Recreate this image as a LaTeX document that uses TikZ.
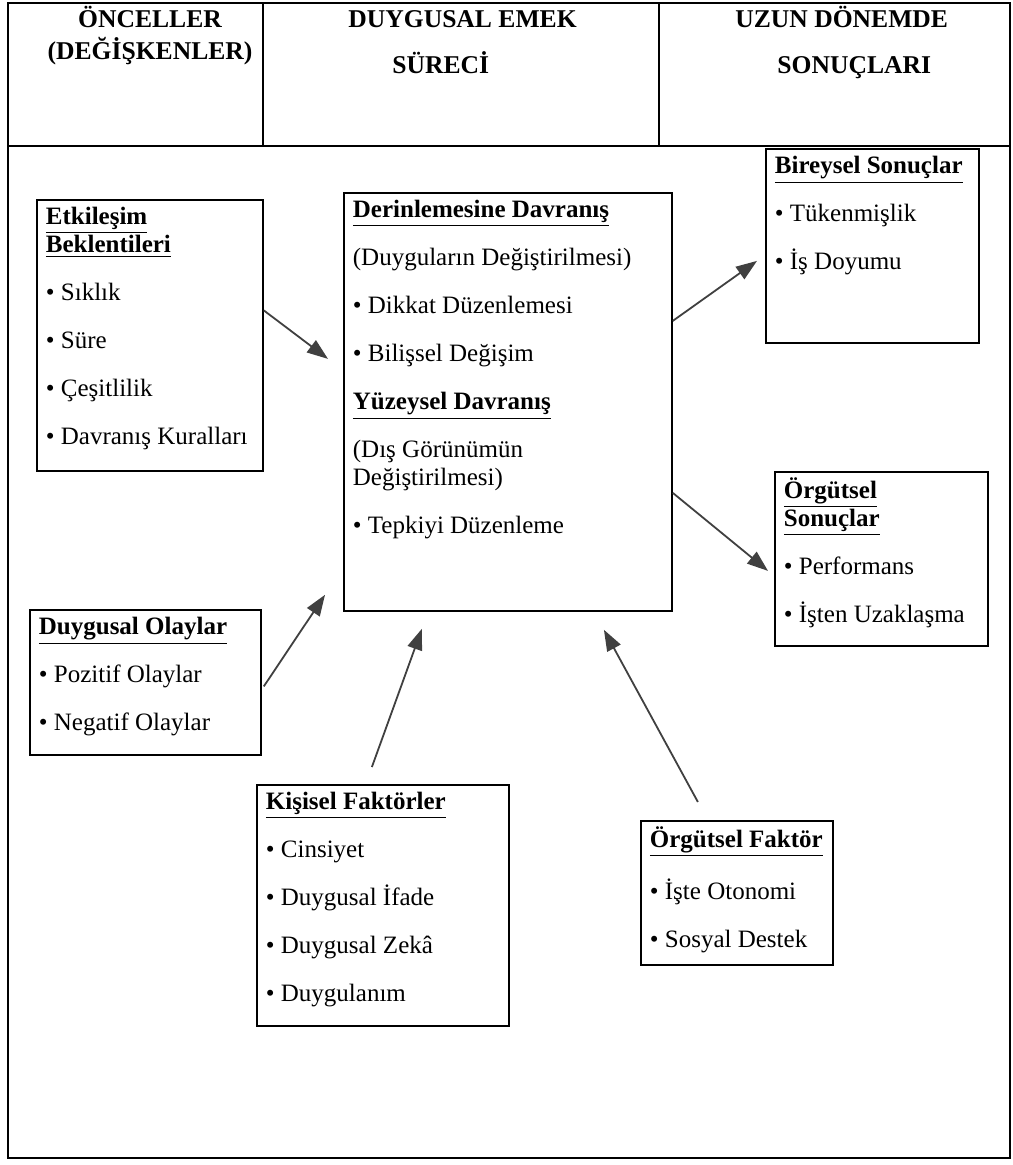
\documentclass[tikz,border=0pt]{standalone}
\usepackage{fontspec}
\setmainfont{Liberation Serif}
\usetikzlibrary{arrows.meta}

\begin{document}
\begin{tikzpicture}[
    x=0.5pt, y=-0.5pt,
    % Node styles
    box/.style={draw, line width=0.9pt, anchor=north west, inner xsep=4.5pt, inner ysep=2.7pt, font=\fontsize{12.5pt}{14pt}\selectfont},
    header/.style={inner sep=0pt, font=\fontsize{12.8pt}{15pt}\selectfont\bfseries},
    frame/.style={line width=0.9pt},
    edge/.style={-{Triangle[length=10.5pt, width=7.5pt]}, line width=0.9pt, draw=black!75},
]
\useasboundingbox (0,0) rectangle (1012,1165);

% ============================================================
% Frame and header row
% ============================================================
\draw[frame] (8,3) rectangle (1010,146);
\draw[frame] (8,146) rectangle (1010,1158);
\draw[frame] (263,3) -- (263,146);
\draw[frame] (659,3) -- (659,146);

\node[header, anchor=base] (once1) at (150,28) {ÖNCELLER};
\node[header, anchor=base] (once2) at (150,60) {(DEĞİŞKENLER)};
\node[header, anchor=base west] (surec1) at (348,28) {DUYGUSAL EMEK};
\node[header, anchor=base west] (surec2) at (392,74) {SÜRECİ};
\node[header, anchor=base west] (sonuc1) at (735,28) {UZUN DÖNEMDE};
\node[header, anchor=base west] (sonuc2) at (777,74) {SONUÇLARI};

% ============================================================
% Antecedents
% ============================================================
\node[box] (etk) at (36,199) {\parbox[t][130.1pt][t]{104pt}{\strut
  \underline{\textbf{Etkileşim}}\\
  \underline{\textbf{Beklentileri}}\\[10pt]
  • Sıklık\\[10pt]
  • Süre\\[10pt]
  • Çeşitlilik\\[10pt]
  • Davranış Kuralları}};

\node[box] (olay) at (29,609) {\parbox[t][67.1pt][t]{106.5pt}{\strut
  \underline{\textbf{Duygusal Olaylar}}\\[10pt]
  • Pozitif Olaylar\\[10pt]
  • Negatif Olaylar}};

\node[box] (kisi) at (256,784) {\parbox[t][115.1pt][t]{117pt}{\strut
  \underline{\textbf{Kişisel Faktörler}}\\[10pt]
  • Cinsiyet\\[10pt]
  • Duygusal İfade\\[10pt]
  • Duygusal Zekâ\\[10pt]
  • Duygulanım}};

\node[box] (orgf) at (640,820) {\parbox[t][66.6pt][t]{87pt}{\strut
  \underline{\textbf{Örgütsel Faktör}}\\[10pt]
  • İşte Otonomi\\[10pt]
  • Sosyal Destek}};

% ============================================================
% Emotional labour process
% ============================================================
\node[box] (surec) at (343,192) {\parbox[t][203.6pt][t]{155pt}{\strut
  \underline{\textbf{Derinlemesine Davranış}}\\[10pt]
  (Duyguların Değiştirilmesi)\\[10pt]
  • Dikkat Düzenlemesi\\[10pt]
  • Bilişsel Değişim\\[10pt]
  \underline{\textbf{Yüzeysel Davranış}}\\[10pt]
  (Dış Görünümün\\
  Değiştirilmesi)\\[10pt]
  • Tepkiyi Düzenleme}};

% ============================================================
% Long-term outcomes
% ============================================================
\node[box] (birey) at (765,148) {\parbox[t][91.6pt][t]{97.5pt}{\strut
  \underline{\textbf{Bireysel Sonuçlar}}\\[10pt]
  • Tükenmişlik\\[10pt]
  • İş Doyumu}};

\node[box] (orgs) at (774,471) {\parbox[t][81.6pt][t]{97.5pt}{\strut
  \underline{\textbf{Örgütsel}}\\
  \underline{\textbf{Sonuçlar}}\\[10pt]
  • Performans\\[10pt]
  • İşten Uzaklaşma}};

% ============================================================
% Edges
% ============================================================
\draw[edge] ([yshift=12.5pt]etk.east) -- ([xshift=-7.5pt, yshift=21.5pt]surec.west);
\draw[edge] ([xshift=1pt, yshift=-2pt]olay.east) -- ([xshift=-9pt, yshift=8.5pt]surec.south west);
\draw[edge] ([xshift=-5.5pt, yshift=8.5pt]kisi.north) -- ([xshift=-43pt, yshift=-8.5pt]surec.south);
\draw[edge] ([xshift=-19.5pt, yshift=9pt]orgf.north) -- ([xshift=48pt, yshift=-9pt]surec.south);

\draw[edge] ([yshift=40.5pt]surec.east) -- ([xshift=-4pt, yshift=-7.5pt]birey.west);
\draw[edge] ([yshift=-45.5pt]surec.east) -- ([xshift=-3pt, yshift=-6pt]orgs.west);

\end{tikzpicture}
\end{document}
